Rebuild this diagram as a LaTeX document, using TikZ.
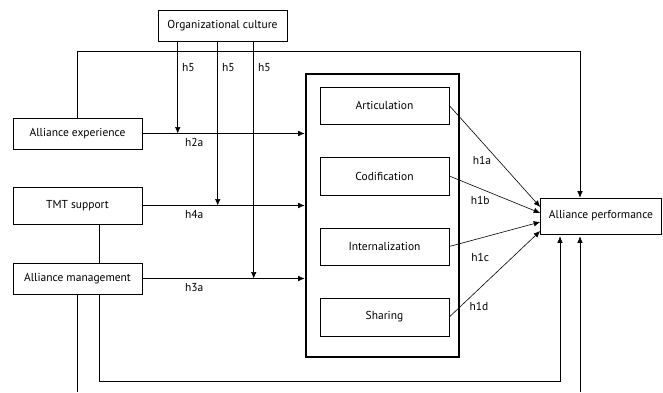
\documentclass[tikz,border=0pt]{standalone}
\usepackage{fontspec}
\setmainfont{PT Sans}
\usetikzlibrary{arrows.meta,calc}
\tikzset{%
    % style for the construct boxes
    construct/.style={%
        draw,
        line width=0.6pt,
        minimum width=129pt,
        inner sep=2pt,
        font=\fontsize{11.5}{13}\selectfont,
    },
    % style for the frame round the knowledge processes
    frame/.style={%
        draw,
        line width=2.6pt,
    },
    % style for a plain link
    link/.style={%
        line width=0.6pt,
    },
    % style for a hypothesised effect
    effect/.style={%
        link, -{Latex[length=6.5pt,width=5.5pt]},
    },
    % style for the hypothesis labels
    hyp/.style={%
        font=\fontsize{11.5}{13}\selectfont,
        inner sep=1pt,
    },
}

\begin{document}
\begin{tikzpicture}[x=1pt,y=-1pt]
    % fix the size of the picture
    \path [use as bounding box] (0,0) rectangle (663,392);
    % antecedents
    \node (culture) [construct, minimum height=31pt] at (222.5,25.5)
          {Organizational culture};
    \node (exper) [construct, minimum height=31pt] at (77.5,133.5)
          {Alliance experience};
    \node (tmt) [construct, minimum height=37pt] at (77.5,205.5)
          {TMT support};
    \node (mgmt) [construct, minimum height=31pt] at (77.5,278.5)
          {Alliance management};
    % knowledge processes
    \node (artic) [construct, minimum height=37pt] at (384.5,105.5)
          {Articulation};
    \node (codif) [construct, minimum height=38pt] at (384.5,176)
          {Codification};
    \node (intern) [construct, minimum height=37pt] at (384.5,246.5)
          {Internalization};
    \node (shar) [construct, minimum height=38pt] at (384.5,317)
          {Sharing};
    \node (ksm) [frame, minimum width=153pt, minimum height=283pt,
                 inner sep=0pt] at (382.5,215.5) {};
    % outcome
    \node (perf) [construct, minimum width=121pt, minimum height=36pt]
          at (601,216) {Alliance performance};
    % helper points
    \coordinate (c1) at ($(culture.south west)+(20,0)$);
    \coordinate (c2) at ($(culture.south west)+(60,0)$);
    \coordinate (c3) at ($(culture.south west)+(96,0)$);
    \coordinate (toprt) at (580,51);
    \coordinate (tmtlink) at ($(tmt.south)+(21.5,0)$);
    \coordinate (mgmtlink) at ($(mgmt.south)+(21.5,0)$);
    \coordinate (botrt) at (560,381);
    \coordinate (openl) at (77.5,392);
    \coordinate (openr) at (580,392);
    % antecedents -> processes
    \draw [effect] (exper) -- (exper -| ksm.west)
          node [hyp, pos=0.32, below=4pt] {h2a};
    \draw [effect] (tmt) -- (tmt -| ksm.west)
          node [hyp, pos=0.32, below=4pt] {h4a};
    \draw [effect] (mgmt) -- (mgmt -| ksm.west)
          node [hyp, pos=0.32, below=4pt] {h3a};
    %% moderation by culture
    \draw [effect] (c1) -- (c1 |- exper)
          node [hyp, pos=0.28, right=3pt] {h5};
    \draw [effect] (c2) -- (c2 |- tmt)
          node [hyp, pos=0.157, right=3pt] {h5};
    \draw [effect] (c3) -- (c3 |- mgmt)
          node [hyp, pos=0.11, right=3pt] {h5};
    % processes -> performance
    \draw [effect] (artic.east) -- ($(perf.west)+(0,-9)$)
          node [hyp, pos=0.54, left=6pt] {h1a};
    \draw [effect] (codif.east) -- ($(perf.west)+(0,-3)$)
          node [hyp, pos=0.34, below=6pt] {h1b};
    \draw [effect] (intern.east) -- ($(perf.west)+(0,6)$)
          node [hyp, pos=0.34, below=14pt] {h1c};
    \draw [effect] (shar.east) -- ($(perf.west)+(0,15)$)
          node [hyp, pos=0.12, right=8pt] {h1d};
    % direct links
    \draw [effect] (exper.north) |- (toprt) -- (toprt |- perf.north);
    \draw [link] (tmtlink) -- (tmtlink |- mgmt.north);
    \draw [effect] (mgmtlink) |- (botrt) -- ($(botrt |- perf.south)+(0,2)$);
    \draw [link] (mgmt.south) -- (openl);
    \draw [effect] (openr) -- ($(openr |- perf.south)+(0,2)$);
\end{tikzpicture}
\end{document}
